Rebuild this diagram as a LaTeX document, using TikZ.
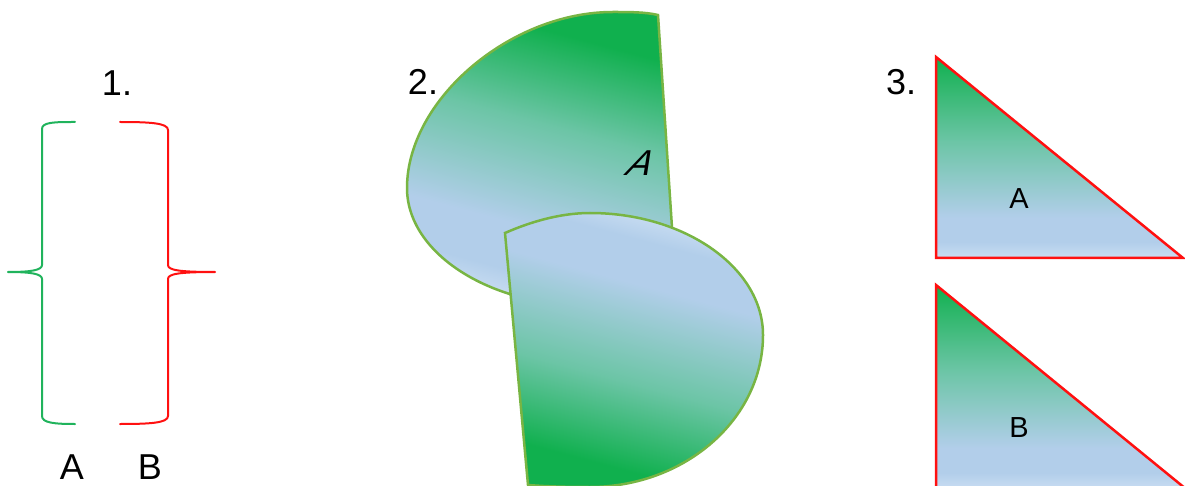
\documentclass[tikz,border=0pt]{standalone}
\usepackage{fontspec}
\setmainfont{Liberation Sans}
\definecolor{grn}{HTML}{10B04E}
\definecolor{tealc}{HTML}{6CC5A6}
\definecolor{lblue}{HTML}{B2CEEA}
\definecolor{lblue2}{HTML}{C9DDF2}
\definecolor{brgreen}{HTML}{20B35C}
\definecolor{brred}{HTML}{FF1010}
\definecolor{outgreen}{HTML}{78B543}
\pgfdeclareverticalshading{shapeshade}{100bp}{color(0bp)=(lblue2); color(25bp)=(lblue2); color(30bp)=(lblue); color(38bp)=(lblue); color(56bp)=(tealc); color(72bp)=(grn); color(100bp)=(grn)}
\pgfdeclareverticalshading{trishade}{100bp}{color(0bp)=(lblue2); color(25bp)=(lblue2); color(29bp)=(lblue); color(35bp)=(lblue); color(54bp)=(tealc); color(75bp)=(grn); color(100bp)=(grn)}
\tikzset{
  brace/.style={line width=2pt, line join=round, line cap=round},
  shapetwo/.style={draw=outgreen, line width=2.5pt, line join=miter, shading=shapeshade},
  tri/.style={draw=brred, line width=2.5pt, line join=miter, shading=trishade},
  biglabel/.style={font=\fontsize{36}{40}\selectfont, inner sep=0pt},
  trilabel/.style={font=\fontsize{29}{32}\selectfont, inner sep=0pt},
}
\begin{document}
\begin{tikzpicture}[x=1pt,y=-1pt]
\useasboundingbox (0,0) rectangle (1185,486);
% Part 1: braces
\draw[brace, brgreen] (75,122) .. controls (55,122) and (42,122) .. (42,129) -- (42,265)
  .. controls (42,270) and (32,272) .. (8,272) .. controls (32,272) and (42,274) .. (42,279)
  -- (42,416) .. controls (42,423) and (55,424) .. (75,424);
\draw[brace, brred] (120,122) .. controls (150,122) and (168,123) .. (168,130) -- (168,265)
  .. controls (168,270) and (178,272) .. (215,272) .. controls (178,272) and (168,274) .. (168,279)
  -- (168,416) .. controls (168,423) and (150,424) .. (120,424);
\node[biglabel] (n1) at (117,83) {1.};
\node[biglabel] (la) at (72,467) {A};
\node[biglabel] (lb) at (150,467) {B};
% Part 2: two chord shapes
\draw[shapetwo, shading angle=-15] (658,15) .. controls (645,12) and (630,12) .. (613,12)
  .. controls (510,12) and (407,100) .. (407,188)
  .. controls (407,253) and (489,306) .. (590,306)
  .. controls (630,306) and (660,290) .. (674,258) -- cycle;
\draw[shapetwo, shading angle=165] (505,233) .. controls (530,222) and (560,213) .. (590,213)
  .. controls (685,213) and (763,268) .. (763,335)
  .. controls (763,419) and (685,487) .. (590,487)
  .. controls (560,487) and (540,486) .. (528,485) -- cycle;
\node[biglabel] (n2) at (423,82) {2.};
\node[font=\fontsize{36}{40}\selectfont, inner sep=0pt, xslant=0.55, transform shape] (sa) at (642,163) {A};
% Part 3: triangles
\draw[tri] (936,57) -- (936,258) -- (1183,258) -- cycle;
\draw[tri] (936,285) -- (936,489) -- (1186,489) -- cycle;
\node[biglabel] (n3) at (901,82) {3.};
\node[trilabel] (ta) at (1019,199) {A};
\node[trilabel] (tb) at (1019,428) {B};
\end{tikzpicture}
\end{document}
